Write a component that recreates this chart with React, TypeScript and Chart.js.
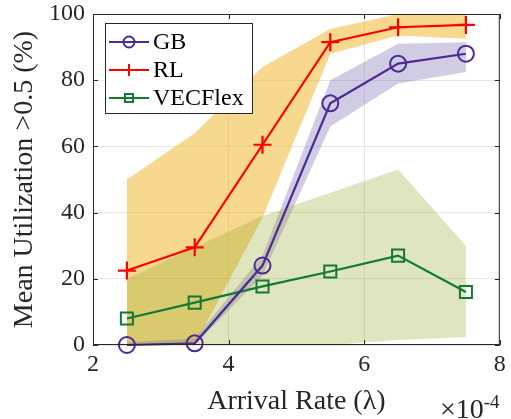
import React, { useEffect, useRef } from 'react';
import { Chart, registerables } from 'chart.js';

Chart.register(...registerables);

const arrivalRates = [2.5, 3.5, 4.5, 5.5, 6.5, 7.5];
const gbMean = [0, 0.5, 24, 73, 85, 88];
const gbUpper = [0.8, 2, 27, 80, 91, 91.5];
const gbLower = [0, 0, 21, 66, 79, 82.5];
const rlMean = [22.5, 29.5, 60.5, 91.5, 96, 96.7];
const rlUpper = [50, 64, 84, 95.5, 100, 100];
const rlLower = [0, 0, 38.5, 88, 93.5, 92.5];
const vecMean = [8, 12.8, 17.7, 22.2, 27, 16];
const vecUpper = [20, 29.5, 39, 46, 53, 30];
const vecLower = [0, 0, 0, 0, 1.5, 2.4];
const xTicks = [2, 4, 6, 8];
const yTicks = [0, 20, 40, 60, 80, 100];
const seriesNames = ['GB', 'RL', 'VECFlex'];

const FONT = '"Liberation Serif", "Times New Roman", serif';
const GB_COLOR = '#4b2a98';
const RL_COLOR = '#ff0000';
const VEC_COLOR = '#127a32';

const pts = (ys: number[]) => arrivalRates.map((x, i) => ({ x, y: ys[i] }));

const band = (ys: number[], color: string, fill: any) => ({
  data: pts(ys),
  borderWidth: 0,
  pointRadius: 0,
  backgroundColor: color,
  fill,
  tension: 0,
});

const overlay = {
  id: 'overlay',
  afterDraw(chart: any) {
    const { ctx, chartArea: a, scales } = chart;
    const xs = scales.x;
    const ys = scales.y;
    ctx.save();
    // box
    ctx.strokeStyle = '#262626';
    ctx.lineWidth = 1;
    ctx.strokeRect(a.left + 0.5, a.top + 0.5, a.right - a.left - 1, a.bottom - a.top - 1);
    // inward ticks
    const tl = 5;
    ctx.beginPath();
    xTicks.forEach((t) => {
      const px = Math.round(xs.getPixelForValue(t)) + 0.5;
      ctx.moveTo(px, a.bottom);
      ctx.lineTo(px, a.bottom - tl);
      ctx.moveTo(px, a.top);
      ctx.lineTo(px, a.top + tl);
    });
    yTicks.forEach((t) => {
      const py = Math.round(ys.getPixelForValue(t)) + 0.5;
      ctx.moveTo(a.left, py);
      ctx.lineTo(a.left + tl, py);
      ctx.moveTo(a.right, py);
      ctx.lineTo(a.right - tl, py);
    });
    ctx.stroke();

    // exponent label
    ctx.fillStyle = '#262626';
    ctx.textBaseline = 'alphabetic';
    ctx.textAlign = 'left';
    ctx.font = `28px ${FONT}`;
    ctx.fillText('\u00d710', 440, 418);
    const w = ctx.measureText('\u00d710').width;
    ctx.font = `19px ${FONT}`;
    ctx.fillText('-4', 440 + w, 408);

    // legend
    const lx = 105, ly = 23, lw = 147, lh = 90;
    ctx.fillStyle = '#ffffff';
    ctx.fillRect(lx, ly, lw, lh);
    ctx.strokeStyle = '#262626';
    ctx.lineWidth = 1;
    ctx.strokeRect(lx + 0.5, ly + 0.5, lw, lh);
    const colors = [GB_COLOR, RL_COLOR, VEC_COLOR];
    const rows = [42, 70, 98];
    rows.forEach((ry, i) => {
      ctx.strokeStyle = colors[i];
      ctx.lineWidth = 2;
      ctx.beginPath();
      ctx.moveTo(109, ry);
      ctx.lineTo(149, ry);
      ctx.stroke();
      const cx = 129;
      ctx.beginPath();
      if (i === 0) {
        ctx.arc(cx, ry, 5.5, 0, Math.PI * 2);
      } else if (i === 1) {
        ctx.moveTo(cx, ry - 6);
        ctx.lineTo(cx, ry + 6);
      } else {
        ctx.rect(cx - 4, ry - 4, 8, 8);
      }
      ctx.stroke();
      ctx.fillStyle = '#000000';
      ctx.font = `24px ${FONT}`;
      ctx.textBaseline = 'middle';
      ctx.fillText(seriesNames[i], 153, ry + 1);
    });
    ctx.restore();
  },
};

export default function App() {
  const ref = useRef<HTMLCanvasElement | null>(null);
  useEffect(() => {
    document.body.style.margin = '0';
    if (!ref.current) return;
    const chart = new Chart(ref.current, {
      type: 'line',
      data: {
        datasets: [
          {
            label: seriesNames[0],
            data: pts(gbMean),
            borderColor: GB_COLOR,
            backgroundColor: 'rgba(0,0,0,0)',
            borderWidth: 2.2,
            pointStyle: 'circle',
            pointRadius: 8,
            pointBorderWidth: 2,
            pointBackgroundColor: 'rgba(0,0,0,0)',
            pointBorderColor: GB_COLOR,
            fill: false,
            order: 1,
            clip: false,
          } as any,
          {
            label: seriesNames[1],
            data: pts(rlMean),
            borderColor: RL_COLOR,
            backgroundColor: 'rgba(0,0,0,0)',
            borderWidth: 2.2,
            pointStyle: 'cross',
            pointRadius: 9,
            pointBorderWidth: 2.2,
            pointBorderColor: RL_COLOR,
            fill: false,
            order: 1,
            clip: false,
          } as any,
          {
            label: seriesNames[2],
            data: pts(vecMean),
            borderColor: VEC_COLOR,
            backgroundColor: 'rgba(0,0,0,0)',
            borderWidth: 2.2,
            pointStyle: 'rect',
            pointRadius: 8.5,
            pointBorderWidth: 2,
            pointBackgroundColor: 'rgba(0,0,0,0)',
            pointBorderColor: VEC_COLOR,
            fill: false,
            order: 1,
            clip: false,
          } as any,
          { ...band(rlUpper, 'rgba(237,177,32,0.5)', '+1'), order: 6 } as any,
          { ...band(rlLower, 'rgba(0,0,0,0)', false), order: 6 } as any,
          { ...band(gbUpper, 'rgba(110,100,170,0.33)', '+1'), order: 5 } as any,
          { ...band(gbLower, 'rgba(0,0,0,0)', false), order: 5 } as any,
          { ...band(vecUpper, 'rgba(150,170,40,0.3)', '+1'), order: 4 } as any,
          { ...band(vecLower, 'rgba(0,0,0,0)', false), order: 4 } as any,
        ],
      },
      options: {
        animation: false,
        responsive: false,
        layout: { padding: { top: 14, right: 6, left: 0, bottom: 0 } },
        plugins: {
          legend: { display: false },
          tooltip: { enabled: false },
          filler: { drawTime: 'beforeDatasetsDraw', propagate: false } as any,
        },
        scales: {
          x: {
            type: 'linear',
            min: 2,
            max: 8,
            afterBuildTicks: (s: any) => {
              s.ticks = xTicks.map((v) => ({ value: v }));
            },
            afterFit: (s: any) => {
              s.height = 74;
              s.paddingLeft = 0;
              s.paddingRight = 0;
            },
            grid: { color: '#e6e6e6', drawTicks: false },
            border: { display: false },
            ticks: {
              color: '#262626',
              font: { family: FONT, size: 24 },
              padding: 5,
              maxRotation: 0,
            },
            title: {
              display: true,
              text: 'Arrival Rate (\u03bb)',
              color: '#262626',
              font: { family: FONT, size: 28, lineHeight: 1 },
              padding: { top: 0, bottom: 3 },
            },
          },
          y: {
            type: 'linear',
            min: 0,
            max: 100,
            afterBuildTicks: (s: any) => {
              s.ticks = yTicks.map((v) => ({ value: v }));
            },
            afterFit: (s: any) => {
              s.width = 93;
              s.paddingTop = 0;
              s.paddingBottom = 0;
            },
            grid: { color: '#e6e6e6', drawTicks: false },
            border: { display: false },
            ticks: {
              color: '#262626',
              font: { family: FONT, size: 24 },
              padding: 8,
            },
            title: {
              display: true,
              text: 'Mean Utilization >0.5 (%)',
              color: '#262626',
              font: { family: FONT, size: 28, lineHeight: 1 },
              padding: { top: 11, bottom: 0 },
            },
          },
        },
      },
      plugins: [overlay],
    });
    return () => chart.destroy();
  }, []);
  return (
    <div style={{ width: 511, height: 419, position: 'relative' }}>
      <canvas ref={ref} width={511} height={419} style={{ width: 511, height: 419, display: 'block' }} />
    </div>
  );
}
